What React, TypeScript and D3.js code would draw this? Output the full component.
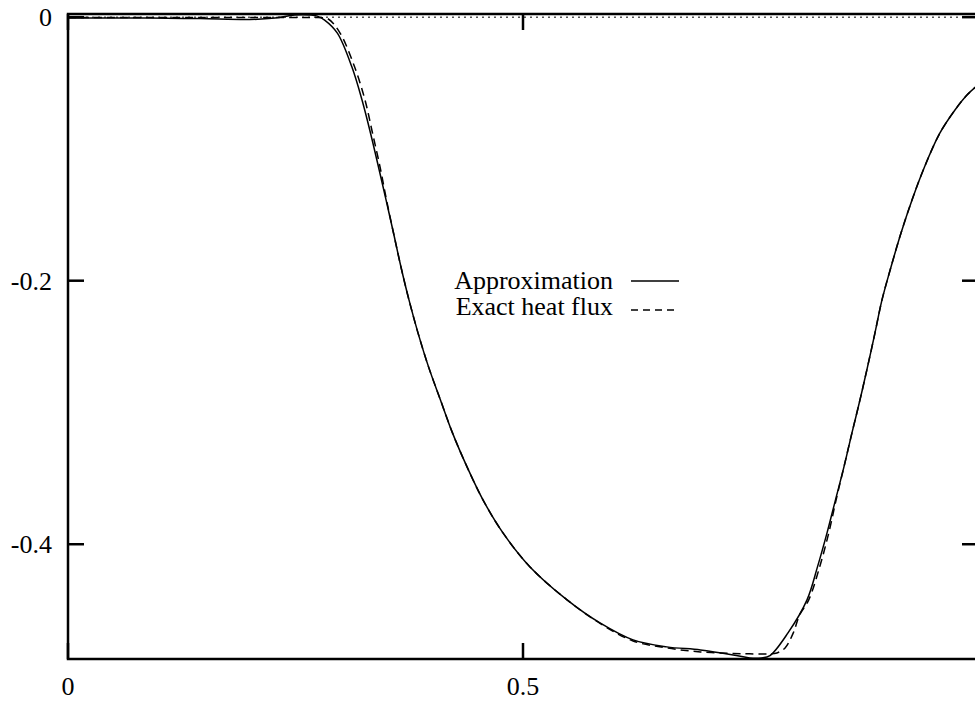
import React from "react";
import * as d3 from "d3";

// heat flux along the boundary
const approxX = [0, 0.09, 0.145, 0.2, 0.2275, 0.249, 0.266, 0.274, 0.282, 0.296, 0.312, 0.3231, 0.3324, 0.3412, 0.3495, 0.3577, 0.3659, 0.3747, 0.3846, 0.3962, 0.4093, 0.4225, 0.4385, 0.456, 0.478, 0.5077, 0.5484, 0.5846, 0.621, 0.658, 0.695, 0.731, 0.749, 0.762, 0.7714, 0.7912, 0.8121, 0.8236, 0.8341, 0.8434, 0.8527, 0.8615, 0.8703, 0.8786, 0.8868, 0.8945, 0.9044, 0.9154, 0.9275, 0.9412, 0.9582, 0.9747, 0.9879, 1.0];
const approxY = [-0.0007, -0.0007, -0.0011, -0.0018, -0.0007, 0.0016, 0.0016, 0.0008, -0.0022, -0.0121, -0.0379, -0.0629, -0.0879, -0.1137, -0.1387, -0.1638, -0.1896, -0.2146, -0.2396, -0.2654, -0.2905, -0.3155, -0.3413, -0.3663, -0.3914, -0.4172, -0.4422, -0.4597, -0.4726, -0.4779, -0.4802, -0.484, -0.4863, -0.4863, -0.4845, -0.4673, -0.4422, -0.4172, -0.3914, -0.3663, -0.3413, -0.3155, -0.2905, -0.2654, -0.2396, -0.2146, -0.1896, -0.1638, -0.1387, -0.1137, -0.0879, -0.0705, -0.0591, -0.0515];

const exactX = [0, 0.145, 0.255, 0.275, 0.286, 0.299, 0.315, 0.3264, 0.3346, 0.3429, 0.35, 0.3577, 0.3659, 0.3747, 0.3846, 0.3962, 0.4093, 0.4225, 0.4385, 0.456, 0.478, 0.5077, 0.5484, 0.5846, 0.621, 0.658, 0.695, 0.731, 0.749, 0.768, 0.779, 0.788, 0.797, 0.804, 0.814, 0.826, 0.836, 0.8441, 0.8527, 0.8615, 0.8703, 0.8786, 0.8868, 0.8945, 0.9044, 0.9154, 0.9275, 0.9412, 0.9582, 0.9747, 0.9879, 1.0];
const exactY = [-0.0003, -0.0003, -0.0003, -0.0003, -0.0014, -0.0121, -0.0379, -0.0629, -0.0879, -0.1137, -0.1387, -0.1638, -0.1896, -0.2146, -0.2396, -0.2654, -0.2905, -0.3155, -0.3413, -0.3663, -0.3914, -0.4172, -0.4422, -0.4601, -0.4734, -0.4787, -0.4817, -0.4829, -0.4832, -0.4832, -0.4825, -0.4787, -0.4673, -0.4536, -0.4422, -0.4172, -0.3914, -0.3663, -0.3413, -0.3155, -0.2905, -0.2654, -0.2396, -0.2146, -0.1896, -0.1638, -0.1387, -0.1137, -0.0879, -0.0705, -0.0591, -0.0515];

const xTicks = [0, 0.5];
const yTicks = [0, -0.2, -0.4];
const legendLabels = ["Approximation", "Exact heat flux"];

const W = 975, H = 702;
const left = 68, right = 978, top = 14, bottom = 659;
const font = "Liberation Serif, Tinos, DejaVu Serif, Times New Roman, Times, serif";

export default function App() {
  const x = d3.scaleLinear().domain([0, 1]).range([left, right]);
  const y = d3.scaleLinear().domain([-0.4871, 0.0024]).range([bottom, top]);

  const line = d3.line<[number, number]>()
    .x(d => x(d[0])).y(d => y(d[1]))
    .curve(d3.curveCatmullRom.alpha(0.5));

  const approxPath = line(approxX.map((v, i) => [v, approxY[i]] as [number, number]));
  const exactPath = line(exactX.map((v, i) => [v, exactY[i]] as [number, number]));

  const tickLen = 16;
  const txt = {fontFamily: font, fontSize: 26};
  return (
    <svg width={W} height={H} style={{position: "absolute", left: 0, top: 0, background: "white"}}>
      <defs>
        <clipPath id="plot">
          <rect x={left} y={top - 4} width={right - left} height={bottom - top + 4} />
        </clipPath>
      </defs>

      {/* zero axis */}
      <line x1={left} x2={right} y1={y(0)} y2={y(0)} stroke="#000" strokeWidth={1} strokeDasharray="2,4" />

      <g clipPath="url(#plot)" fill="none" stroke="#000">
        <path d={exactPath || ""} strokeWidth={1.5} strokeDasharray="8,5" />
        <path d={approxPath || ""} strokeWidth={1.5} />
      </g>

      {/* frame */}
      <rect x={left} y={top} width={right - left} height={bottom - top} fill="none" stroke="#000" strokeWidth={2.5} />

      {xTicks.map(t => (
        <g key={"x" + t}>
          <line x1={x(t)} x2={x(t)} y1={bottom} y2={bottom - tickLen} stroke="#000" strokeWidth={2.5} />
          <line x1={x(t)} x2={x(t)} y1={top} y2={top + tickLen} stroke="#000" strokeWidth={2.5} />
          <text x={x(t)} y={bottom + 36} textAnchor="middle" style={txt}>{t}</text>
        </g>
      ))}
      {yTicks.map(t => (
        <g key={"y" + t}>
          <line x1={left} x2={left + tickLen} y1={y(t)} y2={y(t)} stroke="#000" strokeWidth={2.5} />
          <line x1={right} x2={right - tickLen} y1={y(t)} y2={y(t)} stroke="#000" strokeWidth={2.5} />
          <text x={52} y={y(t) + 9} textAnchor="end" style={txt}>{t}</text>
        </g>
      ))}

      {/* legend */}
      <text x={613} y={289} textAnchor="end" style={txt}>{legendLabels[0]}</text>
      <line x1={631} x2={679} y1={281} y2={281} stroke="#000" strokeWidth={1.5} />
      <text x={613} y={315} textAnchor="end" style={txt}>{legendLabels[1]}</text>
      <line x1={631} x2={679} y1={310} y2={310} stroke="#000" strokeWidth={1.5} strokeDasharray="7,5" />
    </svg>
  );
}
